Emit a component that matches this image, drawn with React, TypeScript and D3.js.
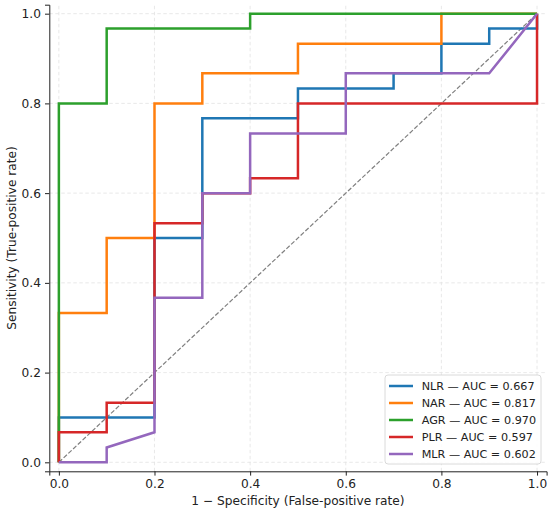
import { useRef, useEffect } from "react";
import * as d3 from "d3";

// ROC curves: false-positive rate (x) vs true-positive rate (y)
const seriesNames = ["NLR", "NAR", "AGR", "PLR", "MLR"];
const aucValues = ["0.667", "0.817", "0.970", "0.597", "0.602"];
const colors = ["#1f77b4", "#ff7f0e", "#2ca02c", "#d62728", "#9467bd"];

const nlrFpr = [0, 0, 0.2, 0.2, 0.3, 0.3, 0.5, 0.5, 0.7, 0.7, 0.8, 0.8, 0.9, 0.9, 1, 1];
const nlrTpr = [0, 0.1, 0.1, 0.5, 0.5, 0.767, 0.767, 0.833, 0.833, 0.867, 0.867, 0.933, 0.933, 0.967, 0.967, 1];

const narFpr = [0, 0, 0.1, 0.1, 0.2, 0.2, 0.3, 0.3, 0.5, 0.5, 0.8, 0.8, 1];
const narTpr = [0, 0.333, 0.333, 0.5, 0.5, 0.8, 0.8, 0.867, 0.867, 0.933, 0.933, 1, 1];

const agrFpr = [0, 0, 0.1, 0.1, 0.4, 0.4, 1];
const agrTpr = [0, 0.8, 0.8, 0.967, 0.967, 1, 1];

const plrFpr = [0, 0, 0.1, 0.1, 0.2, 0.2, 0.3, 0.3, 0.4, 0.4, 0.5, 0.5, 1, 1];
const plrTpr = [0, 0.067, 0.067, 0.133, 0.133, 0.533, 0.533, 0.6, 0.6, 0.633, 0.633, 0.8, 0.8, 1];

const mlrFpr = [0, 0.1, 0.1, 0.2, 0.2, 0.3, 0.3, 0.4, 0.4, 0.6, 0.6, 0.9, 1];
const mlrTpr = [0, 0, 0.033, 0.067, 0.367, 0.367, 0.6, 0.6, 0.733, 0.733, 0.867, 0.867, 1];

const tickValues = [0, 0.2, 0.4, 0.6, 0.8, 1.0];

type Point = { x: number; y: number };

const zip = (xs: number[], ys: number[]): Point[] => xs.map((x, i) => ({ x, y: ys[i] }));

const curves = [
  zip(nlrFpr, nlrTpr),
  zip(narFpr, narTpr),
  zip(agrFpr, agrTpr),
  zip(plrFpr, plrTpr),
  zip(mlrFpr, mlrTpr),
];

const width = 550;
const height = 511;
const FONT = "'DejaVu Sans', sans-serif";

const RocChart = () => {
  const svgRef = useRef<SVGSVGElement | null>(null);

  useEffect(() => {
    if (!svgRef.current) return;

    const margin = { top: 4.7, right: 3.4, bottom: 39.7, left: 49.3 };

    const svg = d3.select(svgRef.current);
    svg.selectAll("*").remove();

    const x = d3
      .scaleLinear()
      .domain([-0.02, 1.02])
      .range([margin.left, width - margin.right]);
    const y = d3
      .scaleLinear()
      .domain([-0.02, 1.02])
      .range([height - margin.bottom, margin.top]);

    // grid
    const grid = svg.append("g").attr("stroke", "#e3e3e3").attr("stroke-width", 0.8).attr("stroke-dasharray", "3.5,2.5");
    tickValues.forEach((t) => {
      grid.append("line").attr("x1", x(t)).attr("x2", x(t)).attr("y1", y(-0.02)).attr("y2", y(1.02));
      grid.append("line").attr("x1", x(-0.02)).attr("x2", x(1.02)).attr("y1", y(t)).attr("y2", y(t));
    });

    // chance line
    svg
      .append("line")
      .attr("x1", x(0))
      .attr("y1", y(0))
      .attr("x2", x(1))
      .attr("y2", y(1))
      .attr("stroke", "#7f7f7f")
      .attr("stroke-width", 1.2)
      .attr("stroke-dasharray", "4.5,2");

    const line = d3
      .line<Point>()
      .x((d) => x(d.x))
      .y((d) => y(d.y));

    curves.forEach((c, i) => {
      svg
        .append("path")
        .datum(c)
        .attr("d", line)
        .attr("fill", "none")
        .attr("stroke", colors[i])
        .attr("stroke-width", 2.5)
        .attr("stroke-linejoin", "miter");
    });

    // axes
    const xAxis = svg
      .append("g")
      .attr("transform", `translate(0,${height - margin.bottom})`)
      .call(d3.axisBottom(x).tickValues(tickValues).tickFormat(d3.format(".1f")).tickSizeOuter(0).tickSize(4.3).tickPadding(3.5));
    const yAxis = svg
      .append("g")
      .attr("transform", `translate(${margin.left},0)`)
      .call(d3.axisLeft(y).tickValues(tickValues).tickFormat(d3.format(".1f")).tickSizeOuter(0).tickSize(4.3).tickPadding(4));

    [xAxis, yAxis].forEach((a) => {
      a.select(".domain").attr("stroke", "#222").attr("stroke-width", 1);
      a.selectAll(".tick line").attr("stroke", "#222").attr("stroke-width", 1);
      a.selectAll(".tick text").attr("fill", "#222").style("font-family", FONT).style("font-size", "12.2px");
    });

    // axis labels
    svg
      .append("text")
      .attr("x", (x(-0.02) + x(1.02)) / 2)
      .attr("y", 505)
      .attr("text-anchor", "middle")
      .style("font-family", FONT)
      .style("font-size", "12.2px")
      .attr("fill", "#222")
      .text("1 − Specificity (False-positive rate)");

    svg
      .append("text")
      .attr("transform", `translate(16,${(y(-0.02) + y(1.02)) / 2}) rotate(-90)`)
      .attr("text-anchor", "middle")
      .style("font-family", FONT)
      .style("font-size", "12.2px")
      .attr("fill", "#222")
      .text("Sensitivity (True-positive rate)");

    // legend
    const lg = svg.append("g").attr("transform", "translate(385,375)");
    lg.append("rect")
      .attr("width", 156)
      .attr("height", 89)
      .attr("rx", 3)
      .attr("fill", "white")
      .attr("fill-opacity", 0.85)
      .attr("stroke", "#d0d0d0")
      .attr("stroke-width", 0.8);

    seriesNames.forEach((name, i) => {
      const cy = 11 + i * 17;
      lg.append("line")
        .attr("x1", 4)
        .attr("x2", 28)
        .attr("y1", cy)
        .attr("y2", cy)
        .attr("stroke", colors[i])
        .attr("stroke-width", 2.5);
      lg.append("text")
        .attr("x", 36.7)
        .attr("y", cy + 4)
        .style("font-family", FONT)
        .style("font-size", "11.2px")
        .attr("fill", "#222")
        .text(`${name} — AUC = ${aucValues[i]}`);
    });
  }, []);

  return (
    <svg
      ref={svgRef}
      width={width}
      height={height}
      style={{ position: "absolute", left: 0, top: 0, background: "white" }}
    ></svg>
  );
};

export default function App() {
  return <RocChart />;
}
